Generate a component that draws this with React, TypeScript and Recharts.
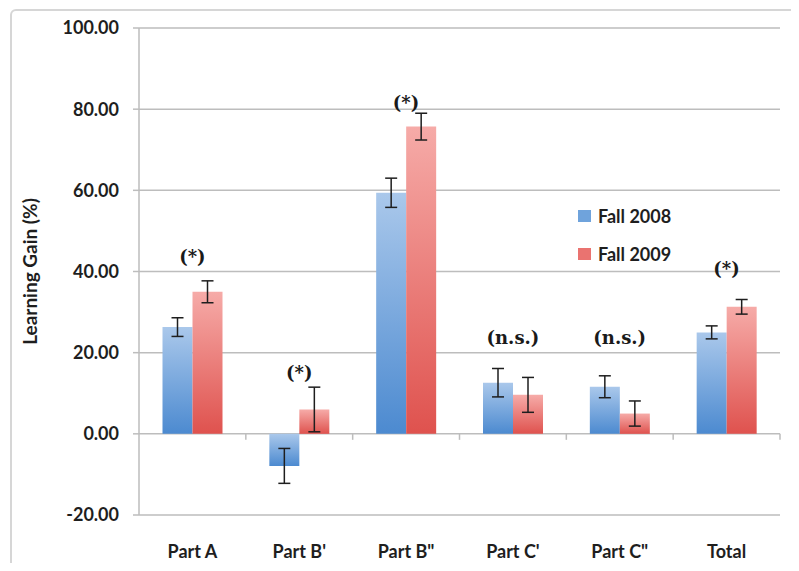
import {
  BarChart,
  Bar,
  XAxis,
  YAxis,
  CartesianGrid,
  ErrorBar,
  Legend,
  ReferenceLine,
  ReferenceDot,
  Label,
} from 'recharts';

const categories = ["Part A", "Part B'", 'Part B"', "Part C'", 'Part C"', 'Total'];
const fall2008 = [26.3, -7.9, 59.4, 12.6, 11.6, 25.0];
const fall2008Err = [2.3, 4.3, 3.6, 3.5, 2.7, 1.6];
const fall2009 = [35.0, 6.0, 75.7, 9.6, 5.0, 31.3];
const fall2009Err = [2.7, 5.5, 3.3, 4.3, 3.1, 1.8];
const significance = ['(*)', '(*)', '(*)', '(n.s.)', '(n.s.)', '(*)'];
const significanceLevel = [43.6, 15.0, 81.5, 23.8, 23.8, 40.6];
const yTicks = [-20, 0, 20, 40, 60, 80, 100];

const data = categories.map((c, i) => ({
  category: c,
  f2008: fall2008[i],
  e2008: fall2008Err[i],
  f2009: fall2009[i],
  e2009: fall2009Err[i],
}));

const legendColors: Record<string, string> = {
  f2008: '#6fa3dc',
  f2009: '#ea7370',
};

const gridColor = '#bdbdbd';
const textColor = '#1e1e1e';

// zero line tick marks between categories
const ZeroTicks = (props: any) => {
  const { x1, x2, y1 } = props;
  const step = (x2 - x1) / categories.length;
  return (
    <g>
      {categories.map((_, i) => (
        <line
          key={i}
          x1={x1 + step * (i + 1)}
          x2={x1 + step * (i + 1)}
          y1={y1}
          y2={y1 + 6}
          stroke={gridColor}
          strokeWidth={1.5}
        />
      ))}
    </g>
  );
};

const LegendContent = (props: any) => {
  const { payload } = props;
  return (
    <div>
      {(payload || []).map((entry: any) => (
        <div
          key={entry.dataKey}
          style={{ display: 'flex', alignItems: 'center', height: 38 }}
        >
          <span
            style={{
              width: 13,
              height: 12,
              background: legendColors[entry.dataKey],
              marginRight: 7,
              display: 'inline-block',
            }}
          />
          <span style={{ fontSize: 18, fontWeight: 700, color: textColor }}>{entry.value}</span>
        </div>
      ))}
    </div>
  );
};

export default function App() {
  return (
    <div
      style={{
        position: 'relative',
        margin: -8,
        width: 799,
        height: 571,
        overflow: 'hidden',
        background: '#fff',
        fontFamily: 'Lato, sans-serif',
      }}
    >
      <div
        style={{
          position: 'absolute',
          left: 10,
          top: 9,
          width: 830,
          height: 620,
          border: '2px solid #d6d6d6',
          borderRadius: 6,
        }}
      />
      <BarChart
        width={799}
        height={571}
        data={data}
        margin={{ top: 28, right: 19, left: 0, bottom: 0 }}
        barCategoryGap="22%"
        barGap={0}
      >
        <defs>
          <linearGradient id="blueGrad" x1="0" y1="0" x2="0" y2="1">
            <stop offset="0%" stopColor="#aac8eb" />
            <stop offset="100%" stopColor="#4c8ad0" />
          </linearGradient>
          <linearGradient id="redGrad" x1="0" y1="0" x2="0" y2="1">
            <stop offset="0%" stopColor="#f6aba8" />
            <stop offset="100%" stopColor="#df524e" />
          </linearGradient>
        </defs>
        <CartesianGrid vertical={false} stroke={gridColor} strokeWidth={1.5} />
        <XAxis
          dataKey="category"
          height={56}
          axisLine={false}
          tickLine={false}
          tickSize={0}
          tickMargin={30}
          interval={0}
          tick={{ fill: textColor, fontSize: 18, fontWeight: 700 }}
        />
        <YAxis
          width={139}
          domain={[-20, 100]}
          ticks={yTicks}
          tickFormatter={(v: number) => v.toFixed(2)}
          axisLine={{ stroke: gridColor, strokeWidth: 1.5 }}
          tickLine={{ stroke: gridColor, strokeWidth: 1.5 }}
          tickSize={6}
          tickMargin={14}
          tick={{ fill: textColor, fontSize: 18, fontWeight: 700 }}
        >
          <Label
            value="Learning Gain (%)"
            angle={-90}
            position="insideLeft"
            offset={30}
            fill={textColor}
            fontSize={19}
            fontWeight={700}
            style={{ textAnchor: 'middle', fontSize: 19 }}
          />
        </YAxis>
        <ReferenceLine y={0} stroke={gridColor} shape={ZeroTicks} />
        <Legend
          layout="vertical"
          align="center"
          verticalAlign="middle"
          content={LegendContent}
          wrapperStyle={{ left: 578, top: 197, width: 160 }}
        />
        <Bar dataKey="f2008" name="Fall 2008" fill="url(#blueGrad)" isAnimationActive={false}>
          <ErrorBar dataKey="e2008" width={6} stroke="#1e1e1e" strokeWidth={1.5} />
        </Bar>
        <Bar dataKey="f2009" name="Fall 2009" fill="url(#redGrad)" isAnimationActive={false}>
          <ErrorBar dataKey="e2009" width={6} stroke="#1e1e1e" strokeWidth={1.5} />
        </Bar>
        {categories.map((c, i) => (
          <ReferenceDot
            key={c}
            x={c}
            y={significanceLevel[i]}
            r={0}
            fill="none"
            stroke="none"
            ifOverflow="visible"
            label={{
              value: significance[i],
              position: 'center',
              fill: '#1a1a1a',
              fontSize: 18,
              fontWeight: 700,
              fontFamily: 'DejaVu Serif, serif',
            }}
          />
        ))}
      </BarChart>
    </div>
  );
}
